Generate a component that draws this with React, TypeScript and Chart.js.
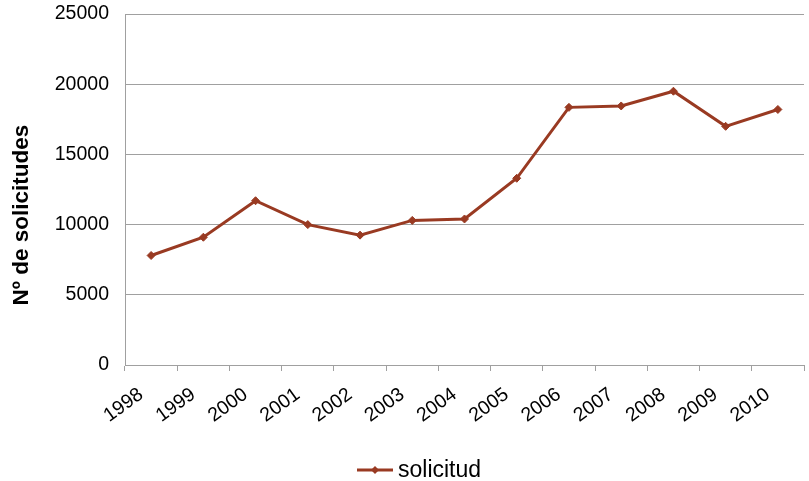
import React, { useEffect, useRef } from "react";
import { Chart, registerables } from "chart.js";

Chart.register(...registerables);

const years = ["1998", "1999", "2000", "2001", "2002", "2003", "2004", "2005", "2006", "2007", "2008", "2009", "2010"];
const solicitudes = [7800, 9100, 11700, 10000, 9250, 10300, 10400, 13300, 18350, 18450, 19500, 17000, 18200];
const seriesName = "solicitud";
const yTitle = "Nº de solicitudes";

const LINE_COLOR = "#993A22";
const FONT = "'Liberation Sans', Arial, sans-serif";

const legendPlugin = {
  id: "customLegend",
  afterDraw(chart: any) {
    const ctx = chart.ctx;
    const y = 470;
    ctx.save();
    ctx.font = `23px ${FONT}`;
    const label = chart.data.datasets[0].label;
    const lineW = 36;
    const gap = 5;
    const x0 = 357;
    ctx.strokeStyle = LINE_COLOR;
    ctx.lineWidth = 3;
    ctx.beginPath();
    ctx.moveTo(x0, y);
    ctx.lineTo(x0 + lineW, y);
    ctx.stroke();
    ctx.fillStyle = LINE_COLOR;
    const mx = x0 + lineW / 2;
    const r = 4;
    ctx.beginPath();
    ctx.moveTo(mx, y - r);
    ctx.lineTo(mx + r, y);
    ctx.lineTo(mx, y + r);
    ctx.lineTo(mx - r, y);
    ctx.closePath();
    ctx.fill();
    ctx.fillStyle = "#000";
    ctx.textBaseline = "middle";
    ctx.textAlign = "left";
    ctx.fillText(label, x0 + lineW + gap, y + 1);

    // y-axis title
    ctx.translate(22, 215);
    ctx.rotate(-Math.PI / 2);
    ctx.font = `bold 22.5px ${FONT}`;
    ctx.textAlign = "center";
    ctx.textBaseline = "middle";
    ctx.fillText(yTitle, 0, 0);
    ctx.restore();
  },
};

export default function App() {
  const ref = useRef<HTMLCanvasElement | null>(null);
  useEffect(() => {
    document.body.style.margin = "0";
    const chart = new Chart(ref.current as HTMLCanvasElement, {
      type: "line",
      data: {
        labels: years,
        datasets: [
          {
            label: seriesName,
            data: solicitudes,
            borderColor: LINE_COLOR,
            backgroundColor: LINE_COLOR,
            borderWidth: 3,
            pointStyle: "rectRot",
            pointRadius: 4,
            pointBorderWidth: 1,
            tension: 0,
          },
        ],
      },
      options: {
        animation: false,
        responsive: false,
        maintainAspectRatio: false,
        layout: { padding: { top: 14, right: 1, left: 0, bottom: 0 } },
        plugins: { legend: { display: false }, tooltip: { enabled: false } },
        scales: {
          x: {
            offset: true,
            afterFit: (s: any) => {
              s.height = 116;
              s.paddingLeft = 0;
              s.paddingRight = 0;
            },
            grid: {
              offset: true,
              drawOnChartArea: false,
              drawTicks: true,
              tickLength: 6,
              color: "#A0A0A0",
            },
            border: { color: "#A0A0A0", width: 1 },
            ticks: {
              color: "#000",
              font: { family: FONT, size: 19.5 },
              minRotation: 36,
              maxRotation: 36,
              autoSkip: false,
              padding: 12,
              labelOffset: -10,
            },
          },
          y: {
            min: 0,
            max: 25000,
            afterFit: (s: any) => {
              s.width = 125;
              s.paddingTop = 0;
              s.paddingBottom = 0;
            },
            grid: { color: "#A0A0A0", drawTicks: false },
            border: { color: "#A0A0A0", width: 1 },
            ticks: {
              stepSize: 5000,
              color: "#000",
              font: { family: FONT, size: 19.5 },
              padding: 16,
              callback: (v: any) => String(v),
            },
          },
        },
      },
      plugins: [legendPlugin],
    });
    return () => chart.destroy();
  }, []);
  return (
    <div style={{ position: "absolute", left: 0, top: 0, width: 809, height: 481 }}>
      <canvas ref={ref} width={809} height={481} style={{ width: 809, height: 481 }} />
    </div>
  );
}
